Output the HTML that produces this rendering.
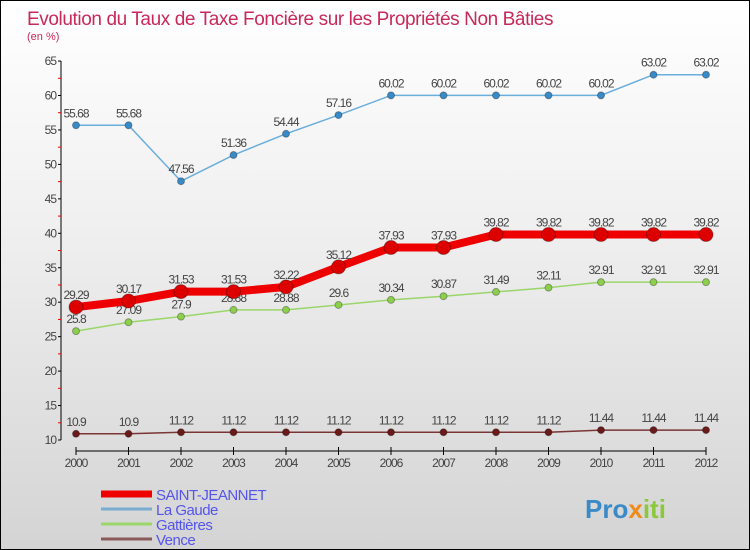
<!DOCTYPE html>
<html><head><meta charset="utf-8"><style>
body{margin:0}
#c{position:relative;width:748px;height:548px;border:1px solid #000;background:linear-gradient(#ffffff,#f0f0f0 40%,#d4d4d4);font-family:"Liberation Sans",sans-serif;overflow:hidden}
</style></head><body>
<div id="c">
<svg id="s" width="748" height="548"></svg>
</div>
<script>
const years=[2000,2001,2002,2003,2004,2005,2006,2007,2008,2009,2010,2011,2012];
const laGaude=[55.68,55.68,47.56,51.36,54.44,57.16,60.02,60.02,60.02,60.02,60.02,63.02,63.02];
const saintJeannet=[29.29,30.17,31.53,31.53,32.22,35.12,37.93,37.93,39.82,39.82,39.82,39.82,39.82];
const gattieres=[25.8,27.09,27.9,28.88,28.88,29.6,30.34,30.87,31.49,32.11,32.91,32.91,32.91];
const vence=[10.9,10.9,11.12,11.12,11.12,11.12,11.12,11.12,11.12,11.12,11.44,11.44,11.44];
const yTicks=[10,15,20,25,30,35,40,45,50,55,60,65];
const NS='http://www.w3.org/2000/svg';
const s=document.getElementById('s');
const X=i=>75+i*52.5, Y=v=>439-(v-10)*6.89;
function el(t,a,txt){const e=document.createElementNS(NS,t);for(const k in a)e.setAttribute(k,a[k]);if(txt!==undefined)e.textContent=txt;s.appendChild(e);return e;}
let t=el('text',{x:26,y:24,'font-size':19,fill:'#c8285a','letter-spacing':'-0.4'},'Evolution du Taux de Taxe Foncière sur les Propriétés Non Bâties');

t=el('text',{x:26,y:39,'font-size':11,fill:'#c8285a'},'(en %)');

let a=el('line',{x1:60,y1:Y(65),x2:60,y2:Y(10),stroke:'#000'});

a=el('line',{x1:X(0),y1:450,x2:X(12),y2:450,stroke:'#000'});

yTicks.forEach(v=>{
 el('line',{x1:57,y1:Y(v),x2:60,y2:Y(v),stroke:'#000'});
 el('line',{x1:57,y1:Y(v+2.5),x2:60,y2:Y(v+2.5),stroke:v<65?'#e00':'none'});
 const l=el('text',{x:55,y:Y(v)+4,'font-size':12,fill:'#444','text-anchor':'end','letter-spacing':'-1'},v);
 
});
years.forEach((y,i)=>{
 el('line',{x1:X(i),y1:446,x2:X(i),y2:454,stroke:'#000'});
 const l=el('text',{x:X(i),y:466,'font-size':12,fill:'#444','text-anchor':'middle','letter-spacing':'-1'},y);
 
});
function series(name,data,color,dot,w,r){
 const p=el('polyline',{points:data.map((v,i)=>X(i)+','+Y(v)).join(' '),fill:'none',stroke:color,'stroke-width':w});
 
 data.forEach((v,i)=>{
  const c=el('circle',{cx:X(i),cy:Y(v),r:r,fill:dot,stroke:'rgba(0,0,0,0.3)'});
  
  const l=el('text',{x:X(i),y:Y(v)-8,'font-size':12,fill:'#444','text-anchor':'middle','letter-spacing':'-1'},String(v));
  
 });
}
series('vence',vence,'#7a3535','#6b1a1a',1.5,3.5);
series('gattieres',gattieres,'#9ad66a','#8ccf4c',1.5,3.5);
series('la-gaude',laGaude,'#6aaedc','#3a8ac8',1.5,3.5);
series('saint-jeannet',saintJeannet,'#ee0000','#dd0000',8,7);
const leg=[['SAINT-JEANNET','#ee0000',7],['La Gaude','#7aaed0',3],['Gattières','#9ad66a',3],['Vence','#8a5a5a',3]];
leg.forEach((d,i)=>{
 const y=493+i*15;
 const l=el('line',{x1:100,y1:y,x2:151,y2:y,stroke:d[1],'stroke-width':d[2]});
 
 const tx=el('text',{x:155,y:y+6,'font-size':15,fill:'#5555ee','letter-spacing':'-0.5'},d[0]);
 
});
const lg=el('text',{x:584,y:517,'font-size':26,'font-weight':'bold',fill:'#3a8ac8'});

lg.innerHTML='<tspan fill="#3a8ac8">Pro</tspan><tspan fill="#f08a1a">x</tspan><tspan fill="#8cc83c">iti</tspan>';
</script>
</body></html>
